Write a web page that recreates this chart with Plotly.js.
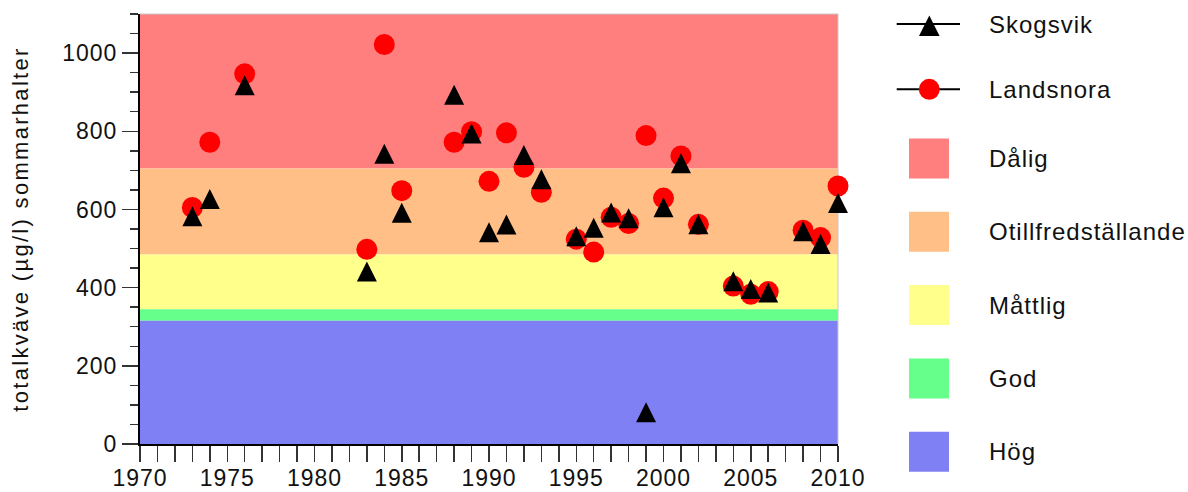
<!DOCTYPE html>
<html>
<head>
<meta charset="utf-8">
<script src="https://cdn.plot.ly/plotly-3.0.1.min.js"></script>
<style>
html,body{margin:0;padding:0;background:#fff;}
#chart{width:1188px;height:492px;}
.xtick text, .ytick text{letter-spacing:1px;}
.ytitle{letter-spacing:2.3px;}
.annotation-text{letter-spacing:1px;}
</style>
</head>
<body>
<div id="chart"></div>
<script>
// ---- data ----
const years = [1973,1974,1976,1983,1984,1985,1988,1989,1990,1991,1992,1993,1995,1996,1997,1998,1999,2000,2001,2002,2004,2005,2006,2008,2009,2010];
const skogsvik = [574,618,909,433,734,583,885,786,533,553,731,669,523,545,584,569,73,597,710,554,408,388,379,536,503,608];
const landsnora = [605,772,947,498,1022,648,772,799,672,796,708,644,524,491,580,564,789,629,737,562,404,383,390,547,528,660];

const seriesNames = ['Skogsvik', 'Landsnora'];
const classNames = ['Dålig', 'Otillfredställande', 'Måttlig', 'God', 'Hög'];
const classColors = ['#FF7F7F', '#FFBF87', '#FFFF8C', '#66FF8C', '#8080F5'];
const classLower = [705, 485, 345, 315, 0];
const classUpper = [1100, 705, 485, 345, 315];

const xTickVals = [1970,1975,1980,1985,1990,1995,2000,2005,2010];
const yTickVals = [0,200,400,600,800,1000];
const yTitle = 'totalkväve (µg/l) sommarhalter';

// ---- layout geometry (pixels) ----
const W = 1188, H = 492;
const M = {l:140, r:350, t:14, b:48};
const PW = W - M.l - M.r, PH = H - M.t - M.b;
const px2x = px => (px - M.l) / PW;
const px2y = py => (H - M.b - py) / PH;

const FONT = 'Liberation Sans, Arial, Helvetica, sans-serif';
const TXT = '#111111';

// band shapes from class limits
const shapes = classNames.map((n, i) => ({
  type: 'rect', xref: 'paper', yref: 'y', x0: 0, x1: 1,
  y0: classLower[i], y1: classUpper[i],
  fillcolor: classColors[i], line: {width: 0}, layer: 'below'
}));

// thin frame at top and right
shapes.push({type:'line', xref:'paper', yref:'paper', x0:0, x1:1, y0:1, y1:1, line:{color:'#c8c8c8', width:1}, layer:'below'});
shapes.push({type:'line', xref:'paper', yref:'paper', x0:1, x1:1, y0:0, y1:1, line:{color:'#c8c8c8', width:1}, layer:'below'});

// ---- custom legend ----
const rowY = [24, 89.3, 158.6, 231.8, 305.1, 378.5, 451.8];
const symCx = 929.3, lineX0 = 896.7, lineX1 = 960, textX = 986.7;
const annotations = [];

const seriesColors = ['#000000', '#FF0000'];
seriesNames.forEach((n, i) => {
  const cy = rowY[i];
  shapes.push({type:'line', xref:'paper', yref:'paper', x0:px2x(lineX0), x1:px2x(lineX1), y0:px2y(cy), y1:px2y(cy), line:{color:'#000', width:2}});
  if (i === 0) {
    const p = `M${px2x(symCx-10.3)},${px2y(cy+12)} L${px2x(symCx+10.3)},${px2y(cy+12)} L${px2x(symCx)},${px2y(cy-8.5)} Z`;
    shapes.push({type:'path', xref:'paper', yref:'paper', path:p, fillcolor:seriesColors[i], line:{width:0}});
  } else {
    shapes.push({type:'circle', xref:'paper', yref:'paper', x0:px2x(symCx-10.5), x1:px2x(symCx+10.5), y0:px2y(cy+10.5), y1:px2y(cy-10.5), fillcolor:seriesColors[i], line:{width:0}});
  }
  annotations.push({text:n, xref:'paper', yref:'paper', x:px2x(textX), y:px2y(cy), xanchor:'left', yanchor:'middle', showarrow:false, font:{family:FONT, size:24, color:TXT}});
});
classNames.forEach((n, i) => {
  const cy = rowY[i + 2];
  shapes.push({type:'rect', xref:'paper', yref:'paper', x0:px2x(909), x1:px2x(949), y0:px2y(cy+20), y1:px2y(cy-20), fillcolor:classColors[i], line:{width:0}});
  annotations.push({text:n, xref:'paper', yref:'paper', x:px2x(textX), y:px2y(cy), xanchor:'left', yanchor:'middle', showarrow:false, font:{family:FONT, size:24, color:TXT}});
});

// ---- traces ----
const traces = [
  {
    type:'scatter', mode:'markers', name:seriesNames[1], x:years, y:landsnora,
    marker:{symbol:'circle', size:21, color:'#FF0000', line:{width:0}},
    cliponaxis:false, showlegend:false
  },
  {
    type:'scatter', mode:'markers', name:seriesNames[0], x:years, y:skogsvik,
    marker:{symbol:'arrow-down', angle:180, standoff:13.3, size:20, color:'#000000', line:{width:0}},
    cliponaxis:false, showlegend:false
  }
];

const layout = {
  width: W, height: H,
  margin: {l:M.l, r:M.r, t:M.t, b:M.b, pad:0},
  paper_bgcolor:'#ffffff', plot_bgcolor:'#ffffff',
  font:{family:FONT, color:TXT, size:23},
  showlegend:false,
  xaxis:{
    range:[1970, 2010], tickvals:xTickVals, ticktext:xTickVals.map(String),
    ticks:'outside', ticklen:16, tickwidth:1.5, tickcolor:'#333', ticklabelstandoff:-4,
    minor:{dtick:1, tick0:1970, ticks:'outside', ticklen:16, tickwidth:1.5, tickcolor:'#333', showgrid:false},
    showline:true, linecolor:'#000', linewidth:2, showgrid:false, zeroline:false,
    tickfont:{family:FONT, size:23, color:TXT}, fixedrange:true
  },
  yaxis:{
    range:[0, 1100], tickvals:yTickVals, ticktext:yTickVals.map(String),
    ticks:'outside', ticklen:16, tickwidth:1.5, tickcolor:'#333',
    minor:{dtick:50, tick0:0, ticks:'outside', ticklen:8, tickwidth:1.5, tickcolor:'#333', showgrid:false},
    showline:true, linecolor:'#000', linewidth:2, showgrid:false, zeroline:false,
    tickfont:{family:FONT, size:23, color:TXT},
    title:{text:yTitle, font:{family:FONT, size:22, color:TXT}, standoff:28},
    fixedrange:true
  },
  shapes: shapes,
  annotations: annotations
};

Plotly.newPlot('chart', traces, layout, {displayModeBar:false, staticPlot:true});
</script>
</body>
</html>
